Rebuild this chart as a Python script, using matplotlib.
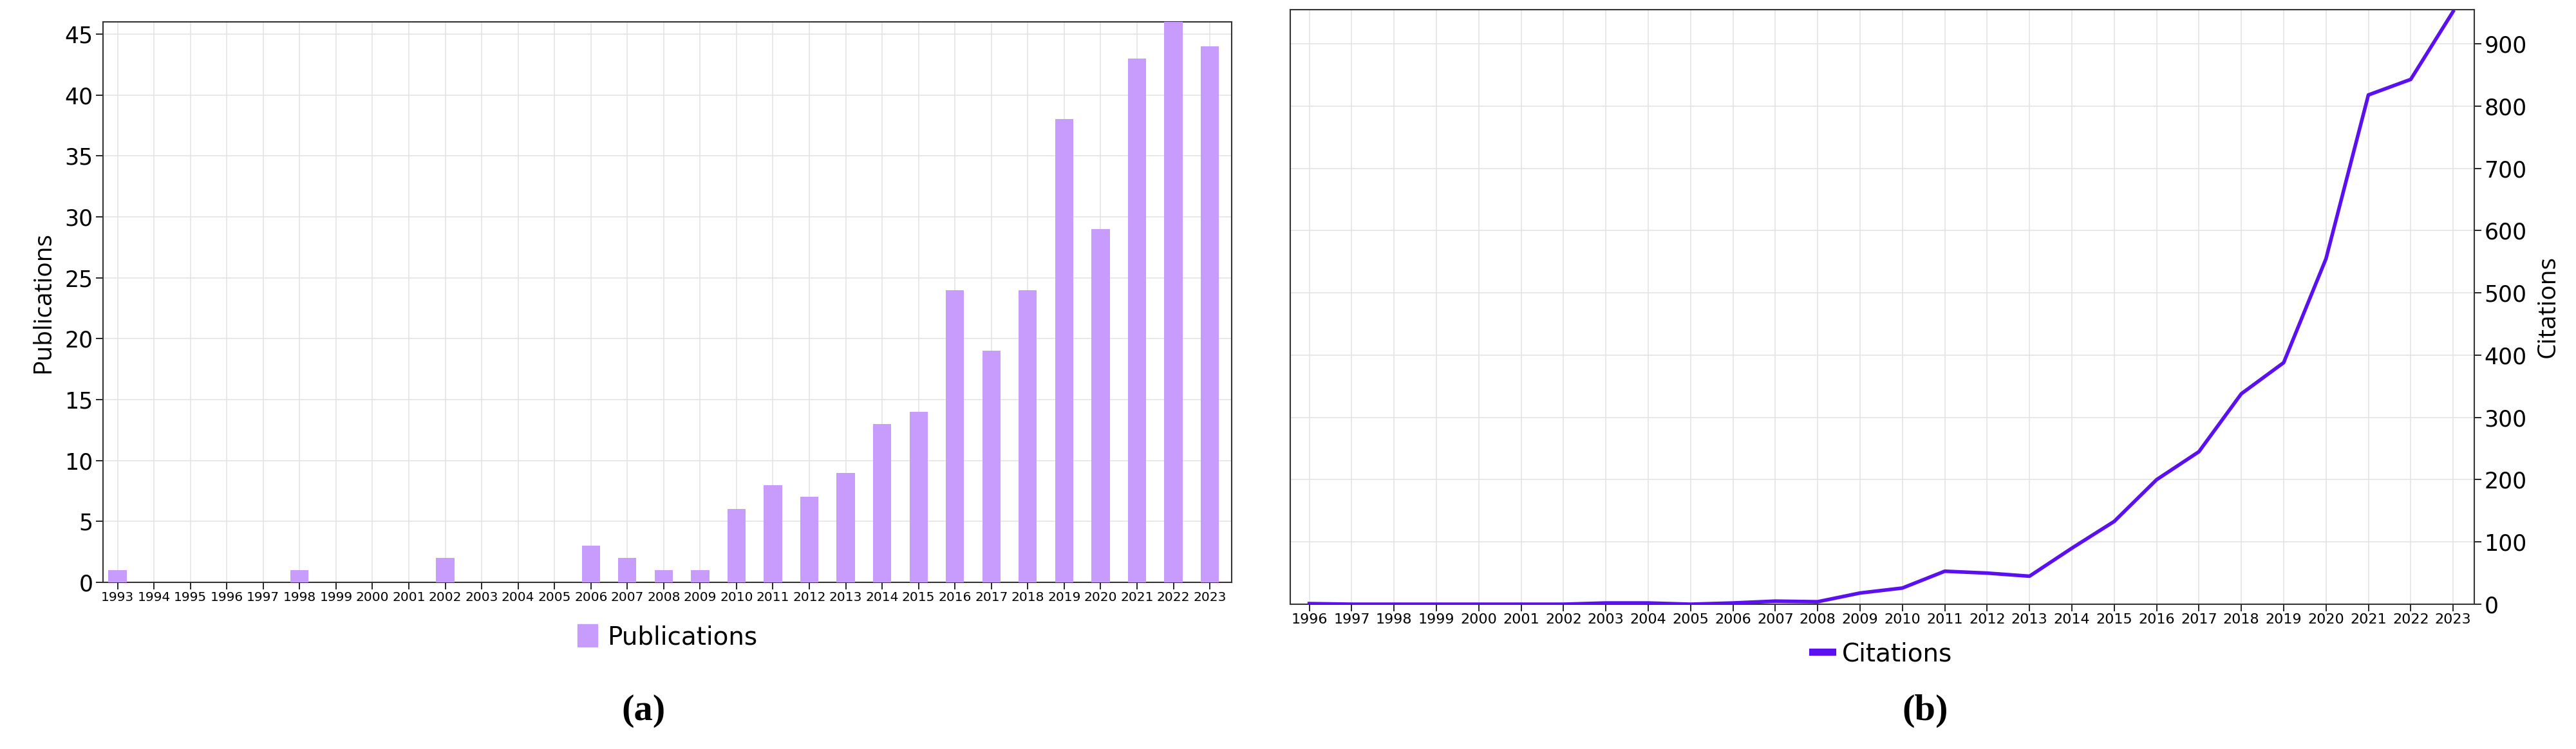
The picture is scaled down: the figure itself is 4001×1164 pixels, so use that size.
import matplotlib
matplotlib.use("Agg")
import matplotlib.pyplot as plt
from matplotlib.lines import Line2D
from matplotlib.patches import Patch

pub_years = list(range(1993, 2024))
publications = [1,0,0,0,0,1,0,0,0,2,0,0,0,3,2,1,1,6,8,7,9,13,14,24,19,24,38,29,43,46,44]
cit_years = list(range(1996, 2024))
citations = [1,0,0,0,0,0,0,2,2,0,2,5,4,18,26,53,50,45,90,133,200,245,338,388,555,818,843,952]

bar_color = "#c89cfc"
line_color = "#5a10f0"
fam = ["DejaVu Sans"]

fig = plt.figure(figsize=(40.01, 11.64), dpi=100)
W, H = 4001, 1164
ax1 = fig.add_axes([160/W, 1-905/H, (1913-160)/W, (905-34)/H])
ax2 = fig.add_axes([2004/W, 1-939/H, (3843-2004)/W, (939-15)/H])

ax1.bar(pub_years, publications, width=0.5, color=bar_color, zorder=3)
ax1.set_xlim(1992.6, 2023.6)
ax1.set_ylim(0, 46)
ax1.set_xticks(pub_years)
ax1.set_xticklabels([str(y) for y in pub_years], family=fam, fontsize=14.5)
ax1.set_yticks(range(0, 46, 5))
for t in ax1.get_yticklabels():
    t.set_fontsize(25)
ax1.set_ylabel("Publications", fontsize=28, family=["Open Sans", "DejaVu Sans"], labelpad=10)
ax1.legend(handles=[Patch(color=bar_color, label="Publications")], loc="upper center",
           bbox_to_anchor=(0.5, -0.035), frameon=False, prop={"size": 28},
           handlelength=0.8, handleheight=1.0, handletextpad=0.4)

ax2.plot(cit_years, citations, color=line_color, lw=4, zorder=3)
ax2.set_xlim(1995.55, 2023.5)
ax2.set_ylim(0, 955)
ax2.set_xticks(cit_years)
ax2.set_xticklabels([str(y) for y in cit_years], family=fam, fontsize=16)
ax2.yaxis.tick_right()
ax2.yaxis.set_label_position("right")
ax2.set_yticks(range(0, 901, 100))
for t in ax2.get_yticklabels():
    t.set_fontsize(25)
ax2.set_ylabel("Citations", fontsize=28, family=["Open Sans", "DejaVu Sans"], labelpad=10)
ax2.legend(handles=[Line2D([], [], color=line_color, lw=8, label="Citations")], loc="upper center",
           bbox_to_anchor=(0.5, -0.025), frameon=False, prop={"size": 28},
           handlelength=0.8, handletextpad=0.4)

for ax in (ax1, ax2):
    ax.grid(True, color="#e4e4e4", lw=1.2, zorder=0)
    ax.set_axisbelow(True)
    for s in ax.spines.values():
        s.set_color("#333333"); s.set_linewidth(1.5)
    ax.tick_params(axis="x", length=8, pad=2, width=1.2)
    ax.tick_params(axis="y", length=8, pad=3, width=1.2)

fig.text(1000/W, 1-1105/H, "(a)", ha="center", va="center", fontsize=42, family="Liberation Serif", fontweight="bold")
fig.text(2990/W, 1-1105/H, "(b)", ha="center", va="center", fontsize=42, family="Liberation Serif", fontweight="bold")

fig.savefig("out.png", dpi=100)
